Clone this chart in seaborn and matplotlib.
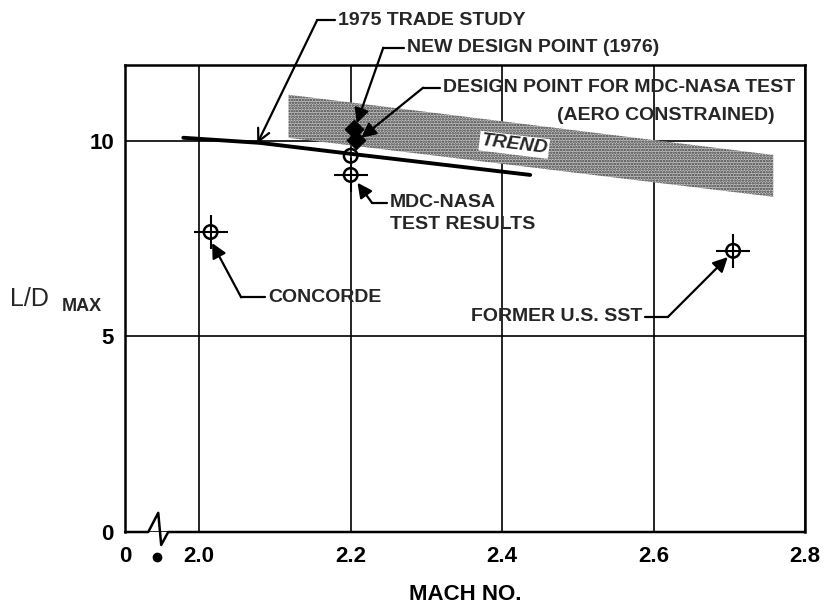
import matplotlib
matplotlib.use("Agg")
import matplotlib.pyplot as plt
import seaborn as sns
import pandas as pd

# ---------------- data ----------------
trade_mach = [1.979, 2.08, 2.20, 2.437]          # 1975 trade study line
trade_ld = [10.08, 9.95, 9.67, 9.13]

trend_mach = [2.118, 2.758]                       # shaded trend band
trend_upper = [11.18, 9.64]
trend_lower = [10.08, 8.57]

point_names = ["CONCORDE", "FORMER U.S. SST", "MDC-NASA TEST A", "MDC-NASA TEST B"]
point_mach = [2.015, 2.705, 2.20, 2.20]
point_ld = [7.67, 7.19, 9.62, 9.13]
point_cross = [True, True, False, True]

design_names = ["NEW DESIGN POINT (1976)", "DESIGN POINT FOR MDC-NASA TEST"]
design_mach = [2.205, 2.207]
design_ld = [10.30, 10.02]

x_ticks = [1.902, 2.0, 2.2, 2.4, 2.6, 2.8]
x_labels = ["0", "2.0", "2.2", "2.4", "2.6", "2.8"]
y_ticks = [0, 5, 10]
y_labels = ["0", "5", "10"]
x_lim = (1.902, 2.8)
y_lim = (0, 11.94)

# annotation texts: (text, text_x, text_y, ha, elbow_x, tip_x, tip_y, arrowstyle)
annotations = [
    ("1975 TRADE STUDY", 2.1835, 13.09, "left", 2.1558, 2.0766, 9.93, "->"),
    ("NEW DESIGN POINT (1976)", 2.2746, 12.38, "left", 2.243, 2.208, 10.45, "-|>"),
    ("DESIGN POINT FOR MDC-NASA TEST", 2.322, 11.36, "left", 2.2957, 2.214, 10.08, "-|>"),
    ("MDC-NASA", 2.252, 8.42, "left", 2.228, 2.209, 8.93, "-|>"),
    ("CONCORDE", 2.0915, 6.0, "left", 2.0554, 2.017, 7.39, "-|>"),
    ("FORMER U.S. SST", 2.585, 5.50, "right", 2.619, 2.698, 7.03, "-|>"),
]
extra_texts = [
    ("(AERO CONSTRAINED)", 2.4726, 10.66),
    ("TEST RESULTS", 2.252, 7.85),
]
trend_label = ("TREND", 2.416, 9.90)

# ---------------- style ----------------
sns.set_theme(style="white")
plt.rcParams["font.family"] = ["Liberation Sans", "DejaVu Sans"]
plt.rcParams["hatch.linewidth"] = 1.2

fig = plt.figure(figsize=(8.24, 6.06), dpi=100)
ax = fig.add_axes([0.1517, 0.1221, 0.8253, 0.7706])

# trend band
ax.fill_between(trend_mach, trend_lower, trend_upper, facecolor="#c4c4c4",
                edgecolor="#3a3a3a", hatch="......", linewidth=0, zorder=1)

# 1975 trade study line
sns.lineplot(x=trade_mach, y=trade_ld, color="black", linewidth=2.8, ax=ax,
             zorder=3, estimator=None, sort=False)

# data points: circle + crosshair
df = pd.DataFrame({"name": point_names, "mach": point_mach, "ld": point_ld,
                   "cross": point_cross})
sns.scatterplot(data=df, x="mach", y="ld", marker="o", s=95, fc="none",
                ec="black", linewidth=1.8, ax=ax, zorder=5, legend=False)
sns.scatterplot(data=df[df["cross"]], x="mach", y="ld", marker="+", s=620,
                color="black", linewidth=1.5, ax=ax, zorder=5, legend=False)

# design points (filled)
sns.scatterplot(x=design_mach, y=design_ld, marker="D", s=90, color="black",
                ec="black", ax=ax, zorder=6, legend=False)

# axes setup
ax.set_xlim(*x_lim)
ax.set_ylim(*y_lim)
ax.set_xticks(x_ticks)
ax.set_xticklabels(x_labels, fontsize=16, fontweight="bold")
ax.set_yticks(y_ticks)
ax.set_yticklabels(y_labels, fontsize=16, fontweight="bold")
ax.tick_params(axis="both", length=0, colors="black")
ax.tick_params(axis="x", pad=10)
ax.tick_params(axis="y", pad=8)
ax.grid(True, color="black", linewidth=1.2)
ax.set_axisbelow(True)
for side in ["left", "right", "top"]:
    ax.spines[side].set_color("black")
    ax.spines[side].set_linewidth(1.8)
ax.spines["bottom"].set_visible(False)

# bottom axis with break
brk_x = [x_lim[0], 1.9327, 1.9459, 1.9498, 1.9591, x_lim[1]]
brk_y = [0, 0, 0.49, -0.33, 0, 0]
ax.plot(brk_x, brk_y, color="black", linewidth=1.8, clip_on=False, zorder=7)
ax.plot([1.9446], [-0.64], marker="o", markersize=6, color="black",
        clip_on=False, linestyle="none")

ax.set_xlabel("MACH NO.", fontsize=16, fontweight="bold", labelpad=12,
              color="black")
ax.set_ylabel("")
fig.text(0.012, 0.507, "L/D", fontsize=18, va="center", ha="left")
fig.text(0.075, 0.494, "MAX", fontsize=13, fontweight="bold", va="center",
         ha="left")

# annotations
for text, tx, ty, ha, ex, px, py, style in annotations:
    gap = 0.004
    start = tx - gap if ha == "left" else tx + gap
    ax.text(tx, ty, text, fontsize=14, fontweight="bold", ha=ha, va="center",
            clip_on=False, zorder=8)
    ax.plot([start, ex], [ty, ty], color="black", linewidth=1.6,
            clip_on=False, zorder=8)
    ax.annotate("", xy=(px, py), xytext=(ex, ty), annotation_clip=False,
                arrowprops=dict(arrowstyle=style, color="black", lw=1.6,
                                mutation_scale=22, shrinkA=0, shrinkB=0),
                zorder=8)
for text, tx, ty in extra_texts:
    ax.text(tx, ty, text, fontsize=14, fontweight="bold", ha="left",
            va="center", clip_on=False, zorder=8)

ax.text(trend_label[1], trend_label[2], trend_label[0], fontsize=14,
        fontweight="bold", fontstyle="italic", ha="center", va="center",
        rotation=-7, zorder=8,
        bbox=dict(facecolor="white", edgecolor="none", pad=1.0))

fig.savefig("out.png", dpi=100)
